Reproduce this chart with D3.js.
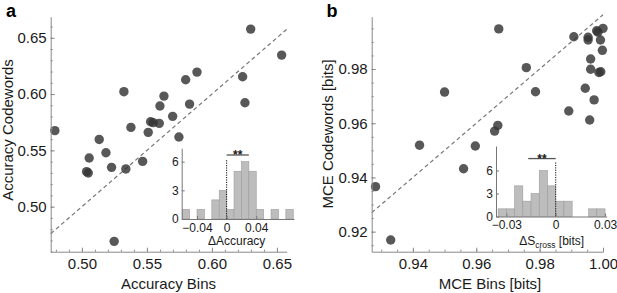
<!DOCTYPE html>
<html>
<head>
<meta charset="utf-8">
<script src="https://cdn.jsdelivr.net/npm/d3@7"></script>
<style>
  body { margin: 0; background: #fff; }
  svg { display: block; font-family: "Liberation Sans", Arial, sans-serif; }
</style>
</head>
<body>
<svg id="chart" width="617" height="293"></svg>
<script>
// --- panel a: accuracy, bins vs codewords ---
const accBins = [0.4792, 0.5133, 0.5185, 0.5323, 0.5377, 0.5510, 0.5528, 0.5548, 0.5595,
    0.5600, 0.5631, 0.5698, 0.5746, 0.5798, 0.5828, 0.5885, 0.6236, 0.6254, 0.6298,
    0.6536, 0.5056, 0.5036, 0.5049, 0.5228, 0.5338, 0.5467, 0.5248];
const accCodewords = [0.5675, 0.5597, 0.5479, 0.6021, 0.5704, 0.5660, 0.5754, 0.5746, 0.5740,
    0.5894, 0.5982, 0.5802, 0.5619, 0.6127, 0.5911, 0.6195, 0.6154, 0.5923, 0.6577,
    0.6346, 0.5432, 0.5311, 0.5299, 0.5349, 0.5335, 0.5402, 0.4692];
const accTicks = [0.50, 0.55, 0.60, 0.65];

// inset a: histogram of ΔAccuracy (left bin edges, width 0.01)
const accDeltaBins = [-0.06, -0.05, -0.04, -0.03, -0.02, -0.01, 0, 0.01, 0.02, 0.03, 0.04, 0.05, 0.06, 0.07, 0.08];
const accDeltaCounts = [1, 0, 1, 0, 2, 3, 1, 5, 6, 5, 1, 0, 1, 0, 1];
const accDeltaTicks = [-0.04, 0, 0.04];
const accSigBar = [0, 0.03];

// --- panel b: MCE, bins vs codewords ---
const mceBins = [0.9671, 0.9500, 0.9758, 0.9787, 0.9658, 0.9668, 0.9421, 0.9597, 0.9908,
    0.9953, 0.9953, 0.9980, 0.9984, 1.0000, 0.9992, 0.9998, 0.9961, 0.9961, 0.9993,
    0.9987, 0.9944, 0.9972, 0.9892, 0.9958, 0.9282, 0.9330, 0.9560];
const mceCodewords = [0.9948, 0.9715, 0.9805, 0.9716, 0.9571, 0.9592, 0.9519, 0.9516, 0.9919,
    0.9917, 0.9907, 0.9941, 0.9936, 0.9950, 0.9907, 0.9869, 0.9837, 0.9799, 0.9790,
    0.9787, 0.9729, 0.9686, 0.9645, 0.9612, 0.9366, 0.9169, 0.9432];
const mceXTicks = [0.94, 0.96, 0.98, 1.00];
const mceYTicks = [0.92, 0.94, 0.96, 0.98];

// inset b: histogram of ΔS_cross (left bin edges, width 0.005)
const mceDeltaBins = [-0.035, -0.03, -0.025, -0.02, -0.015, -0.01, -0.005, 0, 0.005, 0.01, 0.015, 0.02, 0.025];
const mceDeltaCounts = [1, 1, 4, 2, 3, 6, 4, 2, 2, 0, 0, 1, 1];
const mceDeltaTicks = [-0.03, 0, 0.03];
const mceSigBar = [-0.0167, 0];

const histTicks = [0, 3, 6];

const svg = d3.select('#chart');
const textColor = '#1a1a1a';

function styleAxis(sel, color, size) {
    sel.select('.domain').attr('stroke', color).attr('stroke-width', 1);
    sel.selectAll('.tick line').attr('stroke', color);
    sel.selectAll('.tick text')
        .attr('fill', textColor)
        .style('font-size', size + 'px');
}

function drawPanel(p) {
    const x = d3.scaleLinear().domain(p.xDomain).range(p.xRange);
    const y = d3.scaleLinear().domain(p.yDomain).range(p.yRange);
    const g = svg.append('g');

    // y = x reference line
    g.append('line')
        .attr('x1', x(p.xDomain[0])).attr('y1', y(p.xDomain[0]))
        .attr('x2', x(p.xDomain[1])).attr('y2', y(p.xDomain[1]))
        .attr('stroke', '#777')
        .attr('stroke-width', 1.2)
        .attr('stroke-dasharray', '4,3');

    // scatter
    g.selectAll('circle.pt')
        .data(p.xs.map((v, i) => [v, p.ys[i]]))
        .enter().append('circle')
        .attr('class', 'pt')
        .attr('cx', d => x(d[0]))
        .attr('cy', d => y(d[1]))
        .attr('r', 4.7)
        .attr('fill', '#333')
        .attr('fill-opacity', 0.82);

    // minor ticks
    g.append('g')
        .attr('transform', `translate(0,${p.yRange[0]})`)
        .call(d3.axisBottom(x).tickValues(x.ticks(p.xMinorN)).tickSize(-2).tickFormat(''))
        .call(s => s.select('.domain').remove())
        .call(s => s.selectAll('.tick line').attr('stroke', '#888'));
    g.append('g')
        .attr('transform', `translate(${p.xRange[0]},0)`)
        .call(d3.axisLeft(y).tickValues(y.ticks(p.yMinorN)).tickSize(-2).tickFormat(''))
        .call(s => s.select('.domain').remove())
        .call(s => s.selectAll('.tick line').attr('stroke', '#888'));

    // major axes
    g.append('g')
        .attr('transform', `translate(0,${p.yRange[0]})`)
        .call(d3.axisBottom(x).tickValues(p.xTicks).tickSizeInner(-4).tickSizeOuter(0)
            .tickPadding(6.5).tickFormat(d3.format('.2f')))
        .call(s => styleAxis(s, '#888', 15));
    g.append('g')
        .attr('transform', `translate(${p.xRange[0]},0)`)
        .call(d3.axisLeft(y).tickValues(p.yTicks).tickSizeInner(-4).tickSizeOuter(0)
            .tickPadding(4).tickFormat(d3.format('.2f')))
        .call(s => styleAxis(s, '#888', 15));

    // axis titles
    svg.append('text')
        .attr('x', p.xTitlePos[0]).attr('y', p.xTitlePos[1])
        .attr('text-anchor', 'middle')
        .attr('fill', textColor)
        .style('font-size', '15px')
        .text(p.xTitle);
    svg.append('text')
        .attr('transform', `translate(${p.yTitlePos[0]},${p.yTitlePos[1]}) rotate(-90)`)
        .attr('text-anchor', 'middle')
        .attr('fill', textColor)
        .style('font-size', '15px')
        .text(p.yTitle);

    // panel letter
    svg.append('text')
        .attr('x', p.letterPos[0]).attr('y', p.letterPos[1])
        .attr('fill', '#000')
        .style('font-size', '18px')
        .style('font-weight', 'bold')
        .text(p.letter);

    drawInset(p.inset);
}

function drawInset(q) {
    const x = d3.scaleLinear().domain(q.xDomain).range(q.xRange);
    const y = d3.scaleLinear().domain(q.yDomain).range(q.yRange);
    const g = svg.append('g');

    const bars = q.bins.map((b, i) => ({ x0: b, x1: b + q.binWidth, n: q.counts[i] }))
        .filter(d => d.n > 0);
    g.selectAll('rect.bar')
        .data(bars)
        .enter().append('rect')
        .attr('class', 'bar')
        .attr('x', d => x(d.x0))
        .attr('width', d => x(d.x1) - x(d.x0))
        .attr('y', d => y(d.n))
        .attr('height', d => y(0) - y(d.n))
        .attr('fill', '#bdbdbd')
        .attr('stroke', '#9c9c9c')
        .attr('stroke-width', 0.6);

    // zero line
    g.append('line')
        .attr('x1', x(0)).attr('x2', x(0))
        .attr('y1', y(0)).attr('y2', y(q.zeroTop))
        .attr('stroke', '#111')
        .attr('stroke-width', 1)
        .attr('stroke-dasharray', '1.2,1.2');

    // significance bar
    g.append('line')
        .attr('x1', x(q.sig[0])).attr('x2', x(q.sig[1]))
        .attr('y1', y(q.sigY)).attr('y2', y(q.sigY))
        .attr('stroke', '#555')
        .attr('stroke-width', 1.3);
    g.append('text')
        .attr('x', (x(q.sig[0]) + x(q.sig[1])) / 2)
        .attr('y', y(q.sigY) + 4)
        .attr('text-anchor', 'middle')
        .attr('fill', textColor)
        .style('font-size', '12px')
        .style('font-weight', 'bold')
        .text('**');

    const fmt = d => d === 0 ? '0' : d3.format('.2f')(d);
    g.append('g')
        .attr('transform', `translate(0,${q.yRange[0]})`)
        .call(d3.axisBottom(x).tickValues(q.xTicks).tickSizeInner(-3).tickSizeOuter(0)
            .tickPadding(4).tickFormat(fmt))
        .call(s => styleAxis(s, '#777', 12));
    g.append('g')
        .attr('transform', `translate(${q.xRange[0]},0)`)
        .call(d3.axisLeft(y).tickValues(histTicks).tickSizeInner(-3).tickSizeOuter(0)
            .tickPadding(3).tickFormat(d3.format('d')))
        .call(s => styleAxis(s, '#777', 12));

    const label = g.append('text')
        .attr('x', q.labelPos[0]).attr('y', q.labelPos[1])
        .attr('text-anchor', 'middle')
        .attr('fill', textColor)
        .style('font-size', '12px');
    q.label.forEach(part => {
        const t = label.append('tspan').text(part.text);
        if (part.sub) t.attr('baseline-shift', '-3').style('font-size', '8.5px');
    });
}

drawPanel({
    letter: 'a', letterPos: [6, 17],
    xs: accBins, ys: accCodewords,
    xDomain: [0.476, 0.6575], xRange: [50.7, 286.7],
    yDomain: [0.46, 0.6687], yRange: [251.7, 16.7],
    xTicks: accTicks, yTicks: accTicks, xMinorN: 20, yMinorN: 20,
    xTitle: 'Accuracy Bins', xTitlePos: [168.5, 288.5],
    yTitle: 'Accuracy Codewords', yTitlePos: [13, 130],
    inset: {
        bins: accDeltaBins, counts: accDeltaCounts, binWidth: 0.01,
        xDomain: [-0.0607, 0.091], xRange: [181.7, 294],
        yDomain: [0, 7.4], yRange: [219, 148.3],
        xTicks: accDeltaTicks, zeroTop: 6.2,
        sig: accSigBar, sigY: 6.7,
        label: [{ text: 'ΔAccuracy' }], labelPos: [236.7, 245]
    }
});

drawPanel({
    letter: 'b', letterPos: [326.5, 17],
    xs: mceBins, ys: mceCodewords,
    xDomain: [0.927, 1.0], xRange: [371.7, 603],
    yDomain: [0.9126, 0.9993], yRange: [251.7, 16.7],
    xTicks: mceXTicks, yTicks: mceYTicks, xMinorN: 15, yMinorN: 17,
    xTitle: 'MCE Bins [bits]', xTitlePos: [490, 288.5],
    yTitle: 'MCE Codewords [bits]', yTitlePos: [332.5, 134],
    inset: {
        bins: mceDeltaBins, counts: mceDeltaCounts, binWidth: 0.005,
        xDomain: [-0.0363, 0.031], xRange: [496, 606.7],
        yDomain: [0, 9.2], yRange: [216.5, 146],
        xTicks: mceDeltaTicks, zeroTop: 7.1,
        sig: mceSigBar, sigY: 7.56,
        label: [{ text: 'ΔS' }, { text: 'cross', sub: true }, { text: ' [bits]' }], labelPos: [551.7, 245]
    }
});
</script>
</body>
</html>
